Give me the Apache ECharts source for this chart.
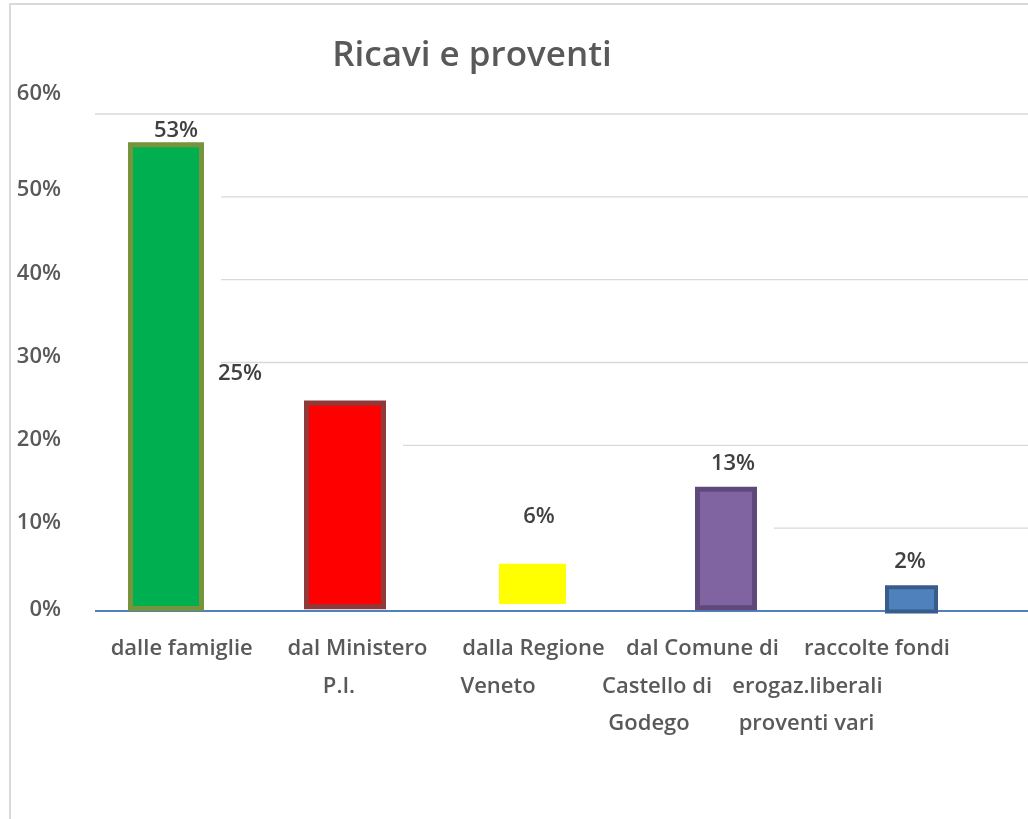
<!DOCTYPE html>
<html><head><meta charset="utf-8">
<script src="https://cdn.jsdelivr.net/npm/echarts@6/dist/echarts.min.js"></script>
<style>html,body{margin:0;padding:0;background:#fff}#c{width:1028px;height:819px}</style>
</head><body><div id="c"></div>
<script>
// ---- data ----
const chartTitle = 'Ricavi e proventi';
const categories = [
  ['dalle famiglie'],
  ['dal Ministero', 'P.I.'],
  ['dalla Regione', 'Veneto'],
  ['dal Comune di', 'Castello di', 'Godego'],
  ['raccolte fondi', 'erogaz.liberali', 'proventi vari']
];
const labelValues = [53, 25, 6, 13, 2];          // printed data labels (%)
const barTops  = [56.6, 25.4, 5.7, 15.0, 3.1];   // drawn bar top (%)
const barBases = [0, 0.2, 0.85, 0.1, -0.3];      // drawn bar bottom (%)
const yTicks = [0, 10, 20, 30, 40, 50, 60];

// ---- styles / layout (not data) ----
const FONT = '"Open Sans", "Noto Sans", sans-serif';
const barW = [76, 82, 67, 62, 53];
const barDx = [2.8, -4.6, -3.5, 3.6, 2.7];
const barFill = ['#00B050', '#FF0000', '#FFFF00', '#8064A2', '#4F81BD'];
const barBorder = ['#77933C', '#8E3A3A', null, '#5F497A', '#385D8A'];
const barBorderW = [5, 5, 0, 5, 4];
const lblDx = [10, -105, 6.5, 7, -1.5];
const lblDy = [-11, -27, -47, -23, -24];
const catLineDx = [[18.5], [7.9, -10.6], [-2.5, -38], [-20, -65.4, -73.4], [-31.8, -101.3, -102.3]];
const yLblUp = {0: 1, 10: 5.5, 20: 6, 30: 5.5, 40: 6, 50: 7, 60: 20};
const AXIS_X0 = 95;

const xRich = {};
catLineDx.forEach((arr, i) => arr.forEach((d, k) => {
  xRich['c' + i + '_' + k] = {
    fontFamily: FONT, fontSize: 22, fontWeight: 600, color: '#595959', lineHeight: 37.5,
    padding: d >= 0 ? [0, 0, 0, 2 * d] : [0, -2 * d, 0, 0]
  };
}));
const yRich = {};
yTicks.forEach(v => {
  yRich['y' + v] = { fontFamily: FONT, fontSize: 22, fontWeight: 600, color: '#595959',
    padding: [0, 0, 2 * yLblUp[v], 0] };
});

const gridTicks = yTicks.filter(v => v > 0);
const gridStart = gridTicks.map(v => { let s = -1; barTops.forEach((t, i) => { if (t > v) s = i; }); return s; });

const chart = echarts.init(document.getElementById('c'));
chart.setOption({
  backgroundColor: '#fff',
  animation: false,
  title: {
    text: chartTitle, left: 467, top: 34, textAlign: 'center',
    textStyle: { fontFamily: FONT, fontSize: 35, fontWeight: 600, color: '#595959' }
  },
  graphic: [{
    type: 'rect', z: -10, silent: true,
    shape: { x: 10, y: 4, width: 1200, height: 1000 },
    style: { fill: 'none', stroke: '#D9D9D9', lineWidth: 2 }
  }],
  grid: { left: 70, right: 26, top: 114, bottom: 208, containLabel: false, outerBoundsMode: 'none' },
  xAxis: {
    type: 'category',
    data: categories.map(l => l.join(' ')),
    axisLine: { show: false }, axisTick: { show: false }, splitLine: { show: false },
    axisLabel: {
      interval: 0, margin: 19, hideOverlap: false,
      formatter: (val, idx) => categories[idx].map((t, k) => '{c' + idx + '_' + k + '|' + t + '}').join('\n'),
      rich: xRich
    }
  },
  yAxis: {
    type: 'value', min: 0, max: 60, interval: 10,
    axisLine: { show: false }, axisTick: { show: false }, splitLine: { show: false },
    axisLabel: { align: 'right', margin: 9, formatter: v => '{y' + v + '|' + v + '%}', rich: yRich }
  },
  series: [
    {
      type: 'custom', z: 1, silent: true,
      data: gridTicks.map(v => [0, v]),
      encode: { x: 0, y: 1 },
      renderItem: (params, api) => {
        const k = params.dataIndex, v = api.value(1);
        const p = api.coord([0, v]);
        const s = gridStart[k];
        let x0 = AXIS_X0;
        if (s >= 0) { const q = api.coord([s, v]); x0 = q[0] + barDx[s] + barW[s] / 2 + 17; }
        return { type: 'line', shape: { x1: x0, y1: p[1], x2: api.getWidth(), y2: p[1] },
          style: { stroke: '#D9D9D9', lineWidth: 1.3 } };
      }
    },
    {
      type: 'custom', z: 2, silent: true,
      data: [[0, 0]],
      encode: { x: 0, y: 1 },
      renderItem: (params, api) => {
        const p = api.coord([0, api.value(1)]);
        return { type: 'line', shape: { x1: AXIS_X0, y1: p[1], x2: api.getWidth(), y2: p[1] },
          style: { stroke: '#4F81BD', lineWidth: 2 } };
      }
    },
    {
      type: 'custom', z: 3,
      data: categories.map((c, i) => [i, barBases[i], barTops[i]]),
      encode: { x: 0, y: [1, 2] },
      renderItem: (params, api) => {
        const i = params.dataIndex;
        const b = api.coord([api.value(0), api.value(1)]);
        const t = api.coord([api.value(0), api.value(2)]);
        const cx = b[0] + barDx[i], w = barW[i], bw = barBorderW[i];
        return {
          type: 'group',
          children: [{
            type: 'rect',
            shape: { x: cx - w / 2 + bw / 2, y: t[1] + bw / 2, width: w - bw, height: b[1] - t[1] - bw },
            style: { fill: barFill[i], stroke: bw ? barBorder[i] : null, lineWidth: bw }
          }, {
            type: 'text', x: cx + lblDx[i], y: t[1] + lblDy[i],
            style: { text: labelValues[i] + '%', fill: '#404040', fontFamily: FONT, fontSize: 22,
              fontWeight: 600, align: 'center', verticalAlign: 'middle' }
          }]
        };
      }
    }
  ]
});
</script>
</body></html>
